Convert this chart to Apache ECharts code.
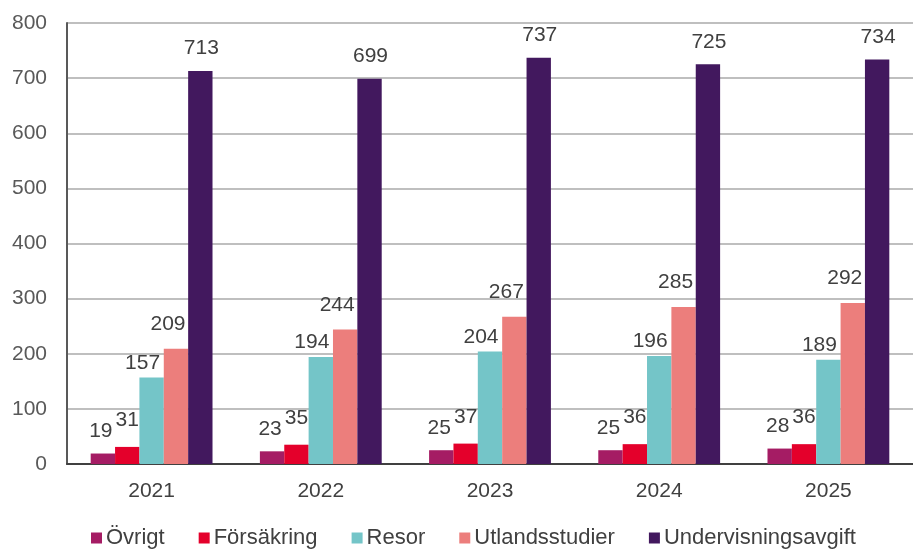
<!DOCTYPE html>
<html><head><meta charset="utf-8">
<script src="https://cdn.jsdelivr.net/npm/echarts@6/dist/echarts.min.js"></script>
<style>html,body{margin:0;padding:0;background:#fff}#c{width:913px;height:551px}</style>
</head><body><div id="c"></div>
<script>
const years = ['2021','2022','2023','2024','2025'];
const ovrigt = [19,23,25,25,28];
const forsakring = [31,35,37,36,36];
const resor = [157,194,204,196,189];
const utlandsstudier = [209,244,267,285,292];
const undervisningsavgift = [713,699,737,725,734];
const seriesNames = ['Övrigt','Försäkring','Resor','Utlandsstudier','Undervisningsavgift'];
const seriesData = [ovrigt, forsakring, resor, utlandsstudier, undervisningsavgift];
const colors = ['#A51C64','#E4002B','#74C5C8','#EC7E7C','#42185E'];
const labelOffsets = [[-2,-8],[0,-12],[-9,0],[-8,-10],[1,-8]];
const font = 'Liberation Sans, Arial, sans-serif';
const chart = echarts.init(document.getElementById('c'));
chart.setOption({
  animation:false,
  textStyle:{fontFamily:font},
  grid:{left:67,top:23,bottom:87,right:-4,containLabel:false},
  legend:{top:527,left:91,itemWidth:11,itemHeight:11,itemGap:34,icon:'rect',padding:0,
    textStyle:{fontSize:22,color:'#404040',fontFamily:font,padding:[0,0,0,-1]},data:seriesNames},
  xAxis:{type:'category',data:years,axisTick:{show:false},
    axisLine:{lineStyle:{color:'#404040',width:2}},
    axisLabel:{fontSize:21,color:'#404040',margin:17,fontFamily:font}},
  yAxis:{type:'value',min:0,max:800,interval:100,
    axisLine:{show:true,lineStyle:{color:'#595959',width:2}},
    splitLine:{lineStyle:{color:'#BFBFBF',width:2}},
    axisLabel:{fontSize:21,color:'#595959',margin:20,fontFamily:font}},
  series: seriesNames.map((n,i)=>({
    name:n,type:'bar',data:seriesData[i],barGap:'0%',barCategoryGap:'28%',
    itemStyle:{color:colors[i]},
    label:{show:true,position:'top',distance:4,offset:labelOffsets[i],fontSize:21,color:'#404040',fontFamily:font}
  }))
});
</script></body></html>
